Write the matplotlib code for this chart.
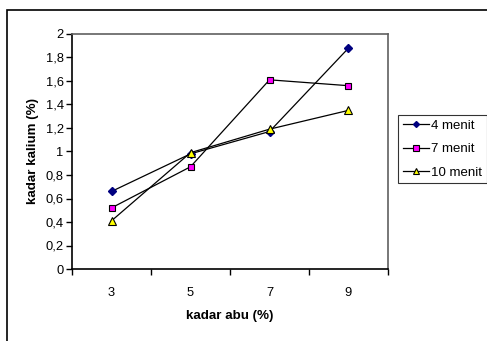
import numpy as np
import matplotlib.pyplot as plt
from matplotlib.patches import Rectangle

plt.rcParams['font.family'] = ['Liberation Sans', 'DejaVu Sans']

categories = ['3', '5', '7', '9']
menit4 = [0.66, 0.98, 1.17, 1.88]
menit7 = [0.52, 0.87, 1.61, 1.56]
menit10 = [0.41, 0.99, 1.19, 1.35]
y_ticks = [0, 0.2, 0.4, 0.6, 0.8, 1.0, 1.2, 1.4, 1.6, 1.8, 2.0]

fig = plt.figure(figsize=(4.87, 3.41), dpi=100)
ax = fig.add_axes([72/487, 1 - 269/341, 316/487, 235/341])

x = np.arange(len(categories))
ax.plot(x, menit4, color='black', lw=0.9, marker='D', ms=4,
        mfc='#000080', mec='#000080', label='4 menit')
ax.plot(x, menit7, color='black', lw=0.9, marker='s', ms=5,
        mfc='#ff00ff', mec='black', mew=0.8, label='7 menit')
ax.plot(x, menit10, color='black', lw=0.9, marker='^', ms=5.5,
        mfc='#ffff00', mec='black', mew=0.8, label='10 menit')

ax.set_xlim(-0.5, len(categories) - 0.5)
ax.set_ylim(0, 2)
ax.set_yticks(y_ticks)
ax.set_yticklabels([('%g' % v).replace('.', ',') for v in y_ticks])
ax.set_xticks(x)
ax.set_xticklabels(categories)
ax.set_xticks(np.arange(-0.5, len(categories)), minor=True)
ax.tick_params(axis='x', which='major', length=0, pad=13, labelsize=9.3)
ax.tick_params(axis='x', which='minor', length=4, width=1, direction='out')
ax.tick_params(axis='y', length=4, width=1, direction='out', pad=2, labelsize=9.3)

for s in ['left', 'bottom']:
    ax.spines[s].set_color('black')
    ax.spines[s].set_linewidth(1.2)
for s in ['top', 'right']:
    ax.spines[s].set_color('#606060')
    ax.spines[s].set_linewidth(1.2)

ax.set_xlabel('kadar abu (%)', fontweight='bold', fontsize=9.6, labelpad=8)
ax.set_ylabel('kadar kalium (%)', fontweight='bold', fontsize=9.6, labelpad=5)

leg = ax.legend(loc='upper left', bbox_to_anchor=(398/487, 1 - 115/341),
                bbox_transform=fig.transFigure, frameon=True, fancybox=False,
                edgecolor='black', fontsize=9.5, handlelength=2.0,
                handletextpad=0.15, borderpad=0.35, labelspacing=0.85,
                borderaxespad=0, markerscale=0.75)
leg.get_frame().set_linewidth(0.8)

fig.patches.append(Rectangle((7/487, -0.1), 1.2, 1 - 10/341 + 0.1,
                             transform=fig.transFigure, fill=False,
                             edgecolor='black', lw=1.2, clip_on=False))

fig.savefig('out.png', dpi=100)
